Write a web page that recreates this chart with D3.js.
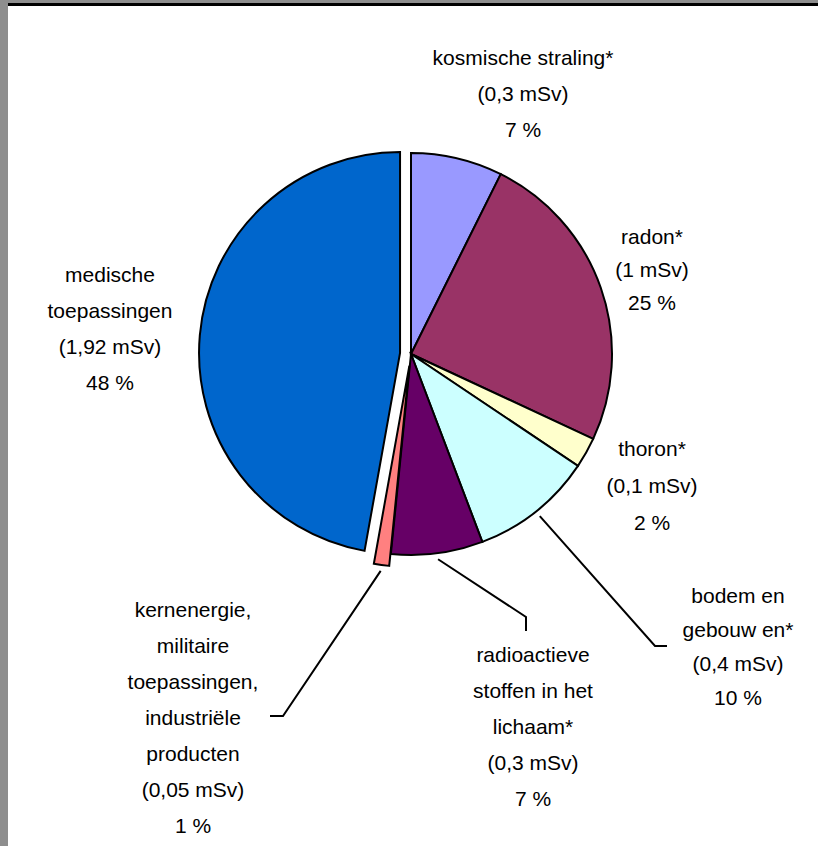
<!DOCTYPE html>
<html lang="nl">
  <head>
    <meta charset="utf-8">
    <title>Stralingsbelasting</title>
    <script src="https://d3js.org/d3.v7.min.js"></script>
    <style>
      body { margin: 0; background: #ffffff; }
      .label { font-family: "Liberation Sans", Arial, sans-serif; font-size: 21px; fill: #000; }
    </style>
  </head>
  <body>
    <div id="chart"></div>
    <script>
      // data
      var categories = ["kosmische straling*", "radon*", "thoron*", "bodem en gebouw en*",
        "radioactieve stoffen in het lichaam*", "kernenergie, militaire toepassingen, industriële producten",
        "medische toepassingen"];
      var values = [0.3, 1, 0.1, 0.4, 0.3, 0.05, 1.92];
      var doseLabels = ["(0,3 mSv)", "(1 mSv)", "(0,1 mSv)", "(0,4 mSv)", "(0,3 mSv)", "(0,05 mSv)", "(1,92 mSv)"];
      var percentLabels = ["7 %", "25 %", "2 %", "10 %", "7 %", "1 %", "48 %"];
      var nameLines = [
        ["kosmische straling*"],
        ["radon*"],
        ["thoron*"],
        ["bodem en", "gebouw en*"],
        ["radioactieve", "stoffen in het", "lichaam*"],
        ["kernenergie,", "militaire", "toepassingen,", "industriële", "producten"],
        ["medische", "toepassingen"]];

      var colors = ["#9999ff", "#993366", "#ffffcc", "#ccffff", "#660066", "#ff8080", "#0066cc"];
      var explode = [0, 0, 0, 0, 0, 12, 11];

      // label layout: center x, first line y, line step
      var labelPos = [
        {x: 523, y: 58, step: 36},
        {x: 652, y: 237, step: 33},
        {x: 652, y: 449, step: 37},
        {x: 738, y: 596, step: 34},
        {x: 533, y: 655, step: 36},
        {x: 193, y: 610, step: 36},
        {x: 110, y: 275, step: 36}];
      // leader lines: elbow and end points (null = no leader)
      var leaders = [null, null, null,
        [[655, 646], [667, 646]],
        [[526, 617], [526, 631]],
        [[283, 716], [270, 716]],
        null];

      var width = 818, height = 846;
      var cx = 411, cy = 354, radius = 201;

      var svg = d3.select("#chart").append("svg")
        .attr("width", width)
        .attr("height", height);

      // frame
      svg.append("rect").attr("width", width).attr("height", height).attr("fill", "#8e8e8e");
      svg.append("rect").attr("x", 8).attr("y", 3).attr("width", width - 8).attr("height", 3).attr("fill", "#000");
      svg.append("rect").attr("x", 8).attr("y", 6).attr("width", width - 8).attr("height", height - 6).attr("fill", "#fff");

      var pie = d3.pie().sort(null).value(function(d){ return d; });
      var arcs = pie(values);
      var arc = d3.arc().innerRadius(0).outerRadius(radius);

      function offset(d, i, extra) {
        var a = (d.startAngle + d.endAngle) / 2;
        var r = explode[i] + (extra || 0);
        return [Math.sin(a) * r, -Math.cos(a) * r];
      }

      var g = svg.append("g").attr("transform", "translate(" + cx + "," + cy + ")");

      g.selectAll("path")
        .data(arcs)
        .enter()
        .append("path")
        .attr("transform", function(d, i){ var o = offset(d, i); return "translate(" + o[0] + "," + o[1] + ")"; })
        .attr("d", arc)
        .attr("fill", function(d, i){ return colors[i]; })
        .attr("stroke", "#000")
        .attr("stroke-width", 2)
        .attr("stroke-linejoin", "miter");

      // leader lines
      arcs.forEach(function(d, i) {
        if (!leaders[i]) return;
        var a = (d.startAngle + d.endAngle) / 2;
        var r = radius + explode[i] + 6;
        var start = [cx + Math.sin(a) * r, cy - Math.cos(a) * r];
        var pts = [start].concat(leaders[i]);
        svg.append("path")
          .attr("d", d3.line()(pts))
          .attr("fill", "none")
          .attr("stroke", "#000")
          .attr("stroke-width", 2);
      });

      // labels
      arcs.forEach(function(d, i) {
        var lines = nameLines[i].concat([doseLabels[i], percentLabels[i]]);
        var p = labelPos[i];
        svg.selectAll(null)
          .data(lines)
          .enter()
          .append("text")
          .attr("class", "label")
          .attr("x", p.x)
          .attr("y", function(t, k){ return p.y + k * p.step; })
          .attr("dy", "0.35em")
          .attr("text-anchor", "middle")
          .text(function(t){ return t; });
      });
    </script>
  </body>
</html>
